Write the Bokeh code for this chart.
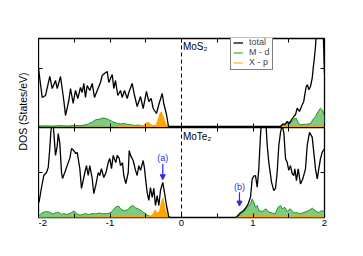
import math
from bokeh.plotting import figure
from bokeh.layouts import column, row
from bokeh.models import (Range1d, LinearAxis, FixedTicker, Span, Label, Arrow,
                          NormalHead, Legend, LegendItem)
from bokeh.embed import file_html
from bokeh.resources import INLINE

# ---------------- data ----------------
x_major = [-2, -1, 0, 1, 2]
x_minor = [-1.5, -0.5, 0.5, 1.5]
x_tick_labels = ["-2", "-1", "0", "1", "2"]

# MoS2 (top panel)
mos2_vb_e = [-2.000, -1.948, -1.902, -1.842, -1.808, -1.762, -1.738, -1.692, -1.646, -1.622,
             -1.576, -1.552, -1.515, -1.483, -1.450, -1.413, -1.389, -1.366, -1.343, -1.319,
             -1.283, -1.249, -1.217, -1.179, -1.133, -1.109, -1.077, -1.039, -1.017, -0.969,
             -0.947, -0.923, -0.891, -0.853, -0.829, -0.797, -0.759, -0.737, -0.690, -0.657,
             -0.620, -0.573, -0.536, -0.490, -0.457, -0.424, -0.396, -0.350, -0.317, -0.270,
             -0.248, -0.210, -0.182, -0.154]
mos2_vb_total = [9.94, 5.06, 5.39, 8.60, 6.57, 7.92, 6.57, 8.60, 4.55, 2.02,
                 4.55, 6.57, 4.05, 6.24, 4.89, 6.74, 5.90, 7.42, 5.06, 7.08,
                 6.24, 7.42, 5.06, 6.24, 7.58, 8.76, 9.10, 9.44, 7.58, 8.93,
                 6.57, 7.92, 5.39, 6.24, 5.06, 6.24, 4.89, 5.90, 7.42, 5.39,
                 3.54, 5.22, 3.20, 6.07, 4.38, 4.89, 3.20, 2.36, 3.88, 5.73,
                 4.05, 2.19, 0.17, 0.0]
mos2_cb_e = [1.370, 1.385, 1.417, 1.445, 1.478, 1.510, 1.538, 1.571, 1.594, 1.618,
             1.650, 1.678, 1.710, 1.724, 1.744, 1.762, 1.781, 1.804, 1.828, 1.842,
             1.856, 1.874, 1.888, 1.905, 1.965, 1.985, 2.000]
mos2_cb_total = [0.0, 0.17, 0.62, 0.50, 1.01, 0.67, 1.30, 1.85, 2.14, 3.25,
                 2.70, 3.54, 4.38, 5.51, 6.91, 7.20, 6.35, 6.91, 8.31, 10.0,
                 11.4, 13.65, 16.3, 19.0, 19.0, 15.0, 9.0]

mos2_d_vb_e = [-2.0, -1.9, -1.8, -1.7, -1.6, -1.5, -1.4, -1.3, -1.25, -1.2, -1.15, -1.1, -1.05,
               -1.0, -0.95, -0.9, -0.85, -0.8, -0.75, -0.7, -0.65, -0.6, -0.55, -0.5, -0.45,
               -0.4, -0.35, -0.3, -0.25, -0.2, -0.17]
mos2_d_vb = [0.2, 0.25, 0.15, 0.3, 0.2, 0.35, 0.3, 0.6, 0.9, 1.3, 1.4, 1.6, 1.5,
             1.2, 0.9, 0.7, 0.6, 0.7, 0.5, 0.45, 0.35, 0.4, 0.3, 0.35, 0.3,
             0.25, 0.3, 0.35, 0.3, 0.2, 0.0]
mos2_d_cb_e = [1.37, 1.385, 1.455, 1.501, 1.548, 1.571, 1.604, 1.632, 1.664, 1.734, 1.804,
               1.836, 1.874, 1.912, 1.944, 1.976, 2.0]
mos2_d_cb = [0.0, 0.1, 0.62, 0.84, 1.01, 1.40, 1.57, 0.84, 0.45, 0.55, 0.62,
             1.30, 1.85, 2.70, 3.25, 2.87, 1.85]

mos2_p_vb_e = [-2.0, -1.5, -1.0, -0.9, -0.8, -0.75, -0.7, -0.65, -0.6, -0.55, -0.5, -0.47,
               -0.44, -0.4, -0.36, -0.33, -0.3, -0.28, -0.25, -0.22, -0.19, -0.17]
mos2_p_vb = [0.0, 0.05, 0.05, 0.1, 0.25, 0.35, 0.3, 0.2, 0.2, 0.3, 0.6, 0.9,
             0.6, 0.3, 0.3, 1.2, 2.4, 2.6, 1.6, 0.6, 0.2, 0.0]
mos2_p_cb_e = [1.37, 1.4, 1.5, 1.6, 1.7, 1.8, 1.9, 2.0]
mos2_p_cb = [0.0, 0.15, 0.2, 0.15, 0.2, 0.15, 0.2, 0.2]

# MoTe2 (bottom panel)
mote2_vb_e = [-1.993, -1.958, -1.926, -1.888, -1.864, -1.842, -1.828, -1.811, -1.797, -1.786,
              -1.762, -1.738, -1.724, -1.702, -1.678, -1.664, -1.632, -1.599, -1.562, -1.538,
              -1.506, -1.478, -1.459, -1.422, -1.399, -1.375, -1.352, -1.329, -1.305, -1.283,
              -1.249, -1.227, -1.199, -1.165, -1.143, -1.119, -1.087, -1.056, -1.025, -1.003,
              -0.979, -0.955, -0.919, -0.899, -0.871, -0.853, -0.825, -0.807, -0.779, -0.745,
              -0.731, -0.713, -0.676, -0.643, -0.620, -0.597, -0.573, -0.536, -0.517, -0.503,
              -0.480, -0.457, -0.434, -0.410, -0.387, -0.364, -0.340, -0.317, -0.294, -0.262,
              -0.238, -0.210, -0.178, -0.154]
mote2_vb_total = [5.0, 10.0, 14.0, 15.0, 16.7, 23.0, 28.3, 31.7, 31.7, 28.3,
                  20.7, 24.0, 28.0, 24.7, 15.0, 13.0, 15.0, 17.3, 19.7, 23.0,
                  22.3, 21.3, 21.7, 16.3, 9.7, 12.3, 15.0, 17.3, 14.0, 17.3,
                  13.0, 8.0, 10.7, 15.0, 14.0, 16.3, 13.3, 15.0, 18.3, 19.7,
                  16.3, 20.7, 18.3, 20.7, 19.7, 17.3, 18.3, 14.0, 11.3, 15.0,
                  22.3, 20.7, 19.0, 15.7, 14.0, 17.3, 15.7, 19.0, 16.3, 13.0,
                  8.3, 5.7, 10.0, 6.7, 9.7, 4.0, 7.3, 4.0, 9.0, 11.7,
                  8.3, 4.0, 0.3, 0.0]
mote2_cb_e = [0.76, 0.779, 0.825, 0.871, 0.905, 0.933, 0.965, 0.989, 1.011, 1.035,
              1.059, 1.081, 1.095, 1.109, 1.126, 1.168, 1.185, 1.199, 1.221, 1.259,
              1.291, 1.315, 1.338, 1.361, 1.385, 1.408, 1.431, 1.455, 1.478, 1.501,
              1.524, 1.548, 1.571, 1.585, 1.608, 1.632, 1.664, 1.697, 1.734, 1.758,
              1.790, 1.828, 1.850, 1.874, 1.899, 1.920, 1.944, 1.968, 2.0]
mote2_cb_total = [0.0, 0.43, 1.57, 2.33, 3.43, 4.57, 6.77, 12.9, 13.8, 14.0,
                  10.1, 16.2, 22.9, 29.0, 32.0, 32.0, 29.6, 24.0, 18.4, 11.8,
                  9.0, 9.7, 15.1, 24.0, 28.4, 30.7, 28.4, 19.6, 18.4, 15.7,
                  17.3, 14.6, 14.0, 16.2, 12.3, 16.2, 11.2, 12.9, 16.2, 24.0,
                  28.4, 26.8, 21.8, 16.2, 12.9, 16.2, 19.6, 21.8, 22.9]

mote2_d_vb_e = [-2.0, -1.95, -1.9, -1.85, -1.8, -1.75, -1.72, -1.68, -1.65, -1.6, -1.55, -1.5,
                -1.46, -1.42, -1.38, -1.35, -1.3, -1.25, -1.2, -1.15, -1.1, -1.05, -1.0, -0.96,
                -0.92, -0.88, -0.85, -0.8, -0.75, -0.72, -0.68, -0.64, -0.6, -0.56, -0.52, -0.48,
                -0.45, -0.4, -0.3, -0.18]
mote2_d_vb = [0.5, 1.5, 2.0, 1.8, 1.2, 1.6, 1.8, 1.0, 1.3, 1.0, 1.5, 2.2,
              1.2, 0.8, 1.0, 1.3, 1.0, 1.3, 1.2, 1.5, 1.2, 1.3, 1.5, 2.3,
              3.5, 3.8, 2.8, 2.2, 2.6, 3.5, 4.0, 3.2, 2.8, 2.2, 1.5, 0.8,
              0.5, 0.3, 0.2, 0.0]
mote2_d_cb_e = [0.76, 0.8, 0.825, 0.87, 0.92, 0.965, 0.99, 1.01, 1.035, 1.06, 1.08, 1.13,
                1.18, 1.22, 1.27, 1.31, 1.35, 1.385, 1.41, 1.445, 1.478, 1.52, 1.57, 1.62,
                1.66, 1.7, 1.78, 1.83, 1.87, 1.92, 1.96, 2.0]
mote2_d_cb = [0.0, 0.5, 0.9, 2.0, 3.4, 4.6, 6.2, 5.1, 3.4, 4.0, 2.3, 2.0,
              2.9, 1.8, 1.5, 1.2, 3.4, 4.0, 2.9, 3.4, 2.0, 2.9, 1.6, 1.6,
              1.2, 1.6, 2.3, 3.1, 2.3, 1.6, 2.3, 1.9]

mote2_p_vb_e = [-2.0, -1.0, -0.8, -0.6, -0.5, -0.44, -0.40, -0.37, -0.34, -0.31, -0.28, -0.26,
                -0.23, -0.2, -0.17]
mote2_p_vb = [0.0, 0.2, 0.3, 0.3, 0.2, 0.3, 1.0, 2.5, 1.5, 1.8, 5.0, 6.5, 3.0, 0.8, 0.0]
mote2_p_cb_e = [0.76, 0.8, 0.9, 0.96, 0.99, 1.02, 1.1, 1.3, 1.5, 1.7, 1.9, 2.0]
mote2_p_cb = [0.0, 0.2, 0.3, 0.8, 1.0, 0.4, 0.3, 0.3, 0.2, 0.3, 0.2, 0.3]

legend_labels = ["total", "M - d", "X - p"]

# ---------------- style ----------------
FONT = "Liberation Sans"
BLACK = "black"
GREEN_LINE = "#1a9a1a"
GREEN_FILL = "#74c474"
ORANGE = "#ffa500"
BLUE = "#2a2af0"


def make_panel(height, y_end, y_tick, border_top, border_bottom, labelled):
    p = figure(width=306, height=height, x_range=Range1d(-2, 2), y_range=Range1d(0, y_end),
               output_backend="svg", toolbar_location=None,
               min_border_left=0, min_border_right=20,
               min_border_top=border_top, min_border_bottom=border_bottom)
    p.add_layout(LinearAxis(), "above")
    p.add_layout(LinearAxis(), "right")
    p.grid.grid_line_color = None
    p.outline_line_color = BLACK
    p.outline_line_width = 1.3
    p.background_fill_color = "white"
    p.border_fill_color = "white"
    for ax in p.xaxis:
        ax.ticker = FixedTicker(ticks=x_major, minor_ticks=x_minor)
        ax.major_label_overrides = dict(zip(x_major, x_tick_labels))
    for ax in p.yaxis:
        ax.ticker = FixedTicker(ticks=[y_tick], minor_ticks=[])
    for ax in p.axis:
        ax.axis_line_color = None
        ax.major_tick_in = 4
        ax.major_tick_out = 0
        ax.minor_tick_in = 4
        ax.minor_tick_out = 0
        ax.major_tick_line_color = BLACK
        ax.minor_tick_line_color = BLACK
        ax.major_label_text_font = FONT
        ax.major_label_text_font_size = "9.5px"
        ax.major_label_text_color = None   # hidden labels take no room
        ax.major_label_standoff = 0
    if labelled:
        ax = p.below[0]
        ax.major_label_text_color = BLACK
        ax.major_label_standoff = 2
    p.add_layout(Span(location=0, dimension="height", line_color=BLACK,
                      line_width=1, line_dash="4 3"))
    return p


def draw_dos(p, e_list, tot_list, d_list, pp_list):
    tot_r = None
    d_r = None
    p_r = None
    for (de, dv) in d_list:
        p.varea(x=de, y1=0, y2=dv, fill_color=GREEN_FILL, fill_alpha=0.9)
        d_r = p.line(de, dv, line_color=GREEN_LINE, line_width=1)
    for (pe, pv) in pp_list:
        p.varea(x=pe, y1=0, y2=pv, fill_color=ORANGE, fill_alpha=1.0)
        p_r = p.line(pe, pv, line_color=ORANGE, line_width=1)
    for (te, tv) in zip(e_list, tot_list):
        tot_r = p.line(te, tv, line_color=BLACK, line_width=1.3)
    return tot_r, d_r, p_r


# top panel: MoS2
top = make_panel(127, 15, 10, 38, 0, False)
t_tot, t_d, t_p = draw_dos(top, [mos2_vb_e, mos2_cb_e], [mos2_vb_total, mos2_cb_total],
                           [(mos2_d_vb_e, mos2_d_vb), (mos2_d_cb_e, mos2_d_cb)],
                           [(mos2_p_vb_e, mos2_p_vb), (mos2_p_cb_e, mos2_p_cb)])
top.add_layout(Label(x=0.02, y=14.6, text="MoS₂", text_font=FONT, text_font_size="10px",
                     text_color=BLACK, text_baseline="top", text_align="left"))
legend = Legend(items=[LegendItem(label=legend_labels[0], renderers=[t_tot]),
                       LegendItem(label=legend_labels[1], renderers=[t_d]),
                       LegendItem(label=legend_labels[2], renderers=[t_p])],
                location=(192, 57), label_text_font=FONT, label_text_font_size="9px",
                label_height=9, glyph_height=9, glyph_width=10, label_standoff=6,
                spacing=0, padding=2, margin=0, border_line_color=BLACK,
                border_line_width=1, background_fill_color="white", background_fill_alpha=1)
top.add_layout(legend)

# bottom panel: MoTe2
bot = make_panel(123, 30, 15, 0, 33, True)
draw_dos(bot, [mote2_vb_e, mote2_cb_e], [mote2_vb_total, mote2_cb_total],
         [(mote2_d_vb_e, mote2_d_vb), (mote2_d_cb_e, mote2_d_cb)],
         [(mote2_p_vb_e, mote2_p_vb), (mote2_p_cb_e, mote2_p_cb)])
bot.add_layout(Label(x=0.02, y=29.0, text="MoTe₂", text_font=FONT, text_font_size="10px",
                     text_color=BLACK, text_baseline="top", text_align="left"))
# annotations (a), (b)
bot.add_layout(Label(x=-0.262, y=19.7, text="(a)", text_font=FONT, text_font_size="9px",
                     text_color=BLUE, text_align="center", text_baseline="middle"))
bot.add_layout(Arrow(x_start=-0.262, y_start=17.8, x_end=-0.262, y_end=12.6,
                     line_color=BLUE, line_width=1.2,
                     end=NormalHead(size=5, fill_color=BLUE, line_color=BLUE)))
bot.add_layout(Label(x=0.811, y=10.3, text="(b)", text_font=FONT, text_font_size="9px",
                     text_color=BLUE, text_align="center", text_baseline="middle"))
bot.add_layout(Arrow(x_start=0.811, y_start=8.4, x_end=0.811, y_end=3.8,
                     line_color=BLUE, line_width=1.2,
                     end=NormalHead(size=5, fill_color=BLUE, line_color=BLUE)))
# x axis label "E- E_f (eV)"
bot.add_layout(Label(x=-0.035, y=-7.4, text="E- E", text_font=FONT, text_font_size="10.5px",
                     text_color=BLACK, text_align="right", text_baseline="alphabetic"))
bot.add_layout(Label(x=-0.028, y=-8.6, text="f", text_font=FONT, text_font_size="7px",
                     text_color=BLACK, text_align="left", text_baseline="alphabetic"))
bot.add_layout(Label(x=0.040, y=-7.4, text="(eV)", text_font=FONT, text_font_size="10.5px",
                     text_color=BLACK, text_align="left", text_baseline="alphabetic"))

# left strip with the y axis label
side = figure(width=38, height=250, x_range=Range1d(0, 38), y_range=Range1d(0, 250),
              output_backend="svg", toolbar_location=None, x_axis_location=None,
              y_axis_location=None, min_border=0)
side.outline_line_color = None
side.grid.grid_line_color = None
side.add_layout(Label(x=22, y=139, text="DOS (States/eV)", angle=math.pi / 2,
                      text_font=FONT, text_font_size="10.5px", text_color=BLACK,
                      text_align="center", text_baseline="middle"))

layout = row(side, column(top, bot, spacing=0), spacing=0)

open("out.html", "w").write(file_html(layout, INLINE))
